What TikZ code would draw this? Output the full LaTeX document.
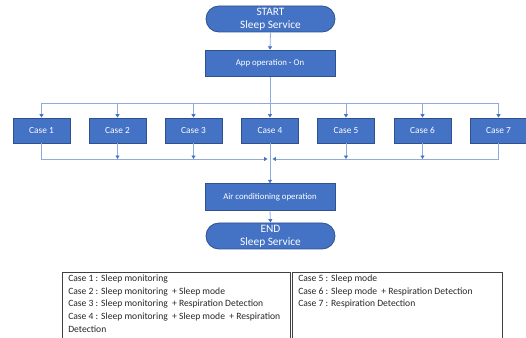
\documentclass[tikz,border=0pt]{standalone}
\usepackage{fontspec}
\setmainfont{Carlito}
\usetikzlibrary{arrows.meta,calc}
\definecolor{boxfill}{HTML}{4472C4}
\definecolor{boxline}{HTML}{2F528F}
\definecolor{conn}{HTML}{8FAADC}
\definecolor{tipc}{HTML}{4472C4}
\begin{document}
\begin{tikzpicture}[x=0.75pt,y=-0.75pt,
  procbox/.style={rectangle,draw=boxline,fill=boxfill,line width=0.6pt,text=white,
    minimum width=97.5pt,minimum height=20pt,inner sep=0pt,font=\fontsize{6.6}{8}\selectfont},
  casebox/.style={rectangle,draw=boxline,fill=boxfill,line width=0.6pt,text=white,
    minimum width=42.75pt,minimum height=18.75pt,inner sep=0pt,font=\fontsize{7}{8}\selectfont},
  termbox/.style={rectangle,rounded corners=9.7pt,draw=boxline,fill=boxfill,line width=0.6pt,text=white,
    minimum width=96.75pt,minimum height=19.5pt,inner sep=0pt,align=center,
    font=\fontsize{8.5}{9.5}\selectfont},
  conline/.style={draw=conn,line width=0.6pt},
  conarrow/.style={draw=conn,line width=0.6pt,-{Triangle[width=3pt,length=2.6pt,color=tipc]}},
  legbox/.style={draw=black!75,line width=0.5pt},
  legtext/.style={anchor=north west,align=left,inner sep=0pt,text=black!85,font=\fontsize{7.2}{9.4}\selectfont}
]
\useasboundingbox (0,0) rectangle (526,338);
\clip (0,0) rectangle (526,338);

% terminators and process boxes
\node[termbox] (start) at (270.5,19) {START\\Sleep Service};
\node[procbox] (app) at (270,63.5) {App operation - On};
\node[procbox] (air) at (270,197) {Air conditioning operation};
\node[termbox] (end) at (270.5,236) {END\\Sleep Service};

% case boxes
\node[casebox] (c1) at (41.5,130.5) {Case 1};
\node[casebox] (c2) at (117.5,130.5) {Case 2};
\node[casebox] (c3) at (193.5,130.5) {Case 3};
\node[casebox] (c4) at (270,130.5) {Case 4};
\node[casebox] (c5) at (346,130.5) {Case 5};
\node[casebox] (c6) at (422.5,130.5) {Case 6};
\node[casebox] (c7) at (498.5,130.5) {Case 7};

\coordinate (tophub) at (270,103);
\coordinate (bothub) at (270,159);
\coordinate (lin) at (267.5,159);
\coordinate (rin) at (272.5,159);

% top connectors
\draw[conarrow] (start.south) -- (app.north);
\draw[conline] (app.south) -- (tophub);
\foreach \c in {c1,c2,c3,c5,c6,c7}{
  \draw[conarrow] (tophub) -| (\c.north);
}
\draw[conarrow] (tophub) -- (c4.north);

% bottom connectors
\draw[conarrow] (c1.south) |- (lin);
\draw[conarrow] (c7.south) |- (rin);
\foreach \c in {c2,c3,c5,c6}{
  \draw[conarrow] (\c.south) -- (\c.south |- bothub);
}
\draw[conarrow] (c4.south) -- (air.north);
\draw[conarrow] (air.south) -- (end.north);

% legend
\draw[legbox] (62,345) -- (62,272) -- (290,272) -- (290,345);
\draw[legbox] (292.5,345) -- (292.5,272) -- (502,272) -- (502,345);
\node[legtext] (legl) at (68,275) {Case 1 : Sleep monitoring\\
Case 2 : Sleep monitoring\ \ + Sleep mode\\
Case 3 : Sleep monitoring\ \ + Respiration Detection\\
Case 4 : Sleep monitoring\ \ + Sleep mode\ \ + Respiration\\
Detection};
\node[legtext] (legr) at (298,275) {Case 5 : Sleep mode\\
Case 6 : Sleep mode\ \ + Respiration Detection\\
Case 7 : Respiration Detection};
\end{tikzpicture}
\end{document}
